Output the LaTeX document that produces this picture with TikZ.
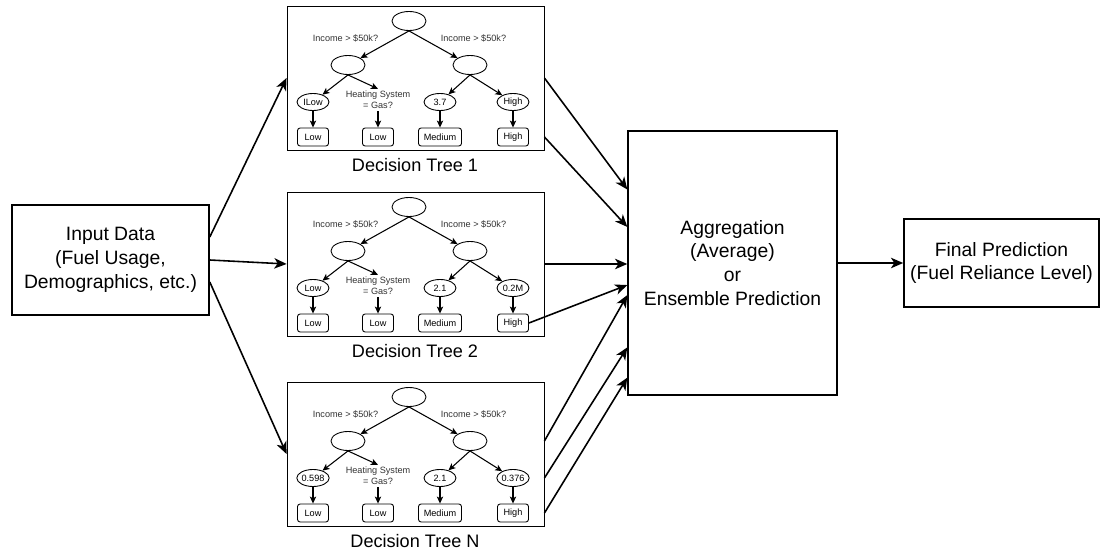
\documentclass[tikz,border=0pt]{standalone}
\usepackage{fontspec}
\setmainfont{Liberation Sans}
\usepackage{tikz}
\usetikzlibrary{arrows.meta, positioning, shapes.geometric, calc}

\begin{document}
\begin{tikzpicture}[
    block/.style={draw, line width=0.9pt, align=center,
                  font=\fontsize{11}{13.6}\selectfont},
    tree box/.style={draw, line width=0.5pt, minimum width=5.14cm,
                     minimum height=2.88cm, inner sep=0pt},
    split/.style={draw, ellipse, line width=0.5pt, minimum width=0.68cm,
                  minimum height=0.38cm, inner sep=0pt},
    leaf/.style={draw, ellipse, line width=0.5pt, minimum width=0.64cm,
                 minimum height=0.34cm, inner sep=0pt,
                 font=\fontsize{5.2}{6.5}\selectfont},
    outcome/.style={draw, rounded corners=1.5pt, line width=0.5pt,
                    minimum width=0.62cm, minimum height=0.36cm,
                    inner xsep=3pt, inner ysep=1pt,
                    font=\fontsize{5.2}{6.5}\selectfont},
    cond/.style={align=center, inner sep=1pt, text=black!80,
                 font=\fontsize{5.2}{6.5}\selectfont},
    caption/.style={font=\fontsize{10.3}{12}\selectfont},
    arrow/.style={-{Stealth[length=7pt, width=6pt, inset=2pt]},
                  line width=0.9pt},
    branch/.style={-{Stealth[length=4pt, width=3.6pt, inset=1pt]},
                   line width=0.6pt}
  ]
    \useasboundingbox (0,0) rectangle (22.04,-11.08);

    % Input and output blocks
    \node[block, minimum width=3.94cm, minimum height=2.2cm] (input)
      at (2.21,-5.2) {Input Data\\(Fuel Usage,\\Demographics, etc.)};
    \node[block, line width=0.8pt, minimum width=4.18cm,
          minimum height=5.28cm] (agg)
      at (14.65,-5.26) {Aggregation\\(Average)\\or\\Ensemble Prediction};
    \node[block, minimum width=3.9cm, minimum height=1.76cm] (final)
      at (20.03,-5.26) {Final Prediction\\(Fuel Reliance Level)};

    % Decision trees
    \foreach \t/\ty/\va/\vb/\vc in {1/-0.12/ILow/3.7/High,
                                    2/-3.84/Low/2.1/0.2M,
                                    N/-7.64/0.598/2.1/0.376} {
      \begin{scope}[shift={(5.74,\ty)}]
        \node[tree box] (tree-\t) at (2.57,-1.44) {};
        \node[caption] (cap-\t) at (2.56,-3.18) {Decision Tree \t};

        \node[split] (root-\t)  at (2.44,-0.30) {};
        \node[split] (left-\t)  at (1.22,-1.18) {};
        \node[split] (right-\t) at (3.66,-1.18) {};
        \node[cond] at (1.17,-0.64) {Income > \$50k?};
        \node[cond] at (3.73,-0.64) {Income > \$50k?};

        \node[leaf] (leaf1-\t) at (0.52,-1.92) {\va};
        \node[cond] (heat-\t)  at (1.82,-1.88) {Heating System\\= Gas?};
        \node[leaf] (leaf3-\t) at (3.06,-1.92) {\vb};
        \node[leaf] (leaf4-\t) at (4.52,-1.92) {\vc};

        \node[outcome] (out1-\t) at (0.52,-2.62) {Low};
        \node[outcome] (out2-\t) at (1.82,-2.62) {Low};
        \node[outcome] (out3-\t) at (3.06,-2.62) {Medium};
        \node[outcome] (out4-\t) at (4.52,-2.62) {High};

        \draw[branch] (root-\t.south) -- (left-\t);
        \draw[branch] (root-\t.south) -- (right-\t);
        \draw[branch] (left-\t.south) -- (leaf1-\t);
        \draw[branch] (left-\t.south) -- (heat-\t.north);
        \draw[branch] (right-\t.south) -- (leaf3-\t);
        \draw[branch] (right-\t.south) -- (leaf4-\t);
        \draw[branch] (leaf1-\t) -- (out1-\t);
        \draw[branch] (heat-\t) -- (out2-\t);
        \draw[branch] (leaf3-\t) -- (out3-\t);
        \draw[branch] (leaf4-\t) -- (out4-\t);
      \end{scope}
    }

    % Input -> trees
    \draw[arrow] ([yshift=0.46cm]input.east) -- (tree-1.west);
    \draw[arrow] (input.east) -- (tree-2.west);
    \draw[arrow] ([yshift=-0.44cm]input.east) -- (tree-N.west);

    % Trees -> aggregation
    \draw[arrow] (tree-1.east)
      -- ($(agg.north west)!0.223!(agg.south west)$);
    \draw[arrow] (tree-1.east |- out4-1)
      -- ($(agg.north west)!0.364!(agg.south west)$);
    \draw[arrow] (tree-2.east) -- (tree-2.east -| agg.west);
    \draw[arrow] (out4-2.east)
      -- ($(agg.north west)!0.583!(agg.south west)$);
    \draw[arrow] (tree-N.east |- right-N)
      -- ($(agg.north west)!0.621!(agg.south west)$);
    \draw[arrow] (tree-N.east |- leaf4-N)
      -- ($(agg.north west)!0.818!(agg.south west)$);
    \draw[arrow] (tree-N.east |- out4-N)
      -- ($(agg.north west)!0.932!(agg.south west)$);

    % Aggregation -> final
    \draw[arrow] (agg.east) -- (final.west);
  \end{tikzpicture}
\end{document}
